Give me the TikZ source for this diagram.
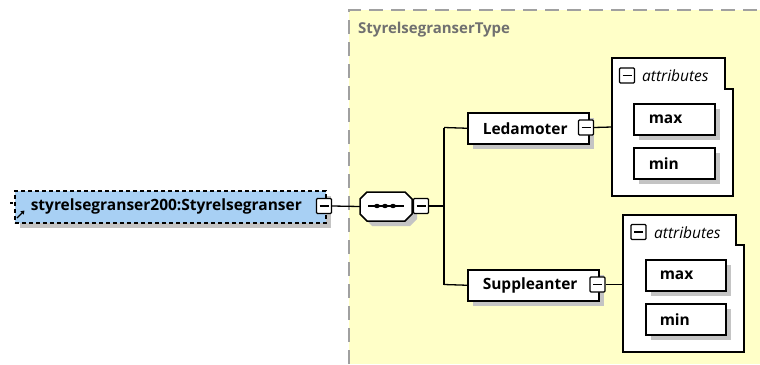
\documentclass[tikz,border=0pt]{standalone}
\usepackage{fontspec}
\setmainfont{Open Sans}
\usetikzlibrary{shadows,arrows.meta}
\definecolor{panelyellow}{HTML}{FFFFC8}
\definecolor{rootblue}{HTML}{A8D0F4}
\definecolor{shadowgray}{HTML}{C4C4C4}
\definecolor{titlegray}{HTML}{707070}
\definecolor{dashgray}{HTML}{A0A0A0}
\begin{document}
\begin{tikzpicture}[x=1pt,y=-1pt,
  shadowed/.style={drop shadow={shadow xshift=5pt,shadow yshift=-5pt,fill=shadowgray,opacity=1}},
  elbox/.style={draw,line width=1.5pt,fill=white,shadowed,minimum height=31pt,inner ysep=0pt,
     anchor=north west,align=left,font=\fontsize{15.5}{17}\selectfont\bfseries},
  attrbox/.style={elbox,minimum height=31pt},
  minusbox/.style={draw,line width=1.3pt,fill=white,rounded corners=1pt,minimum size=15pt,inner sep=0pt,
     path picture={\draw[line width=1.2pt] ([xshift=3pt]path picture bounding box.west) -- ([xshift=-3pt]path picture bounding box.east);}},
  conn/.style={line width=1.3pt},
  frame/.style={line width=1.5pt,fill=white},
  attrlabel/.style={anchor=west,inner sep=0pt,font=\fontsize{15.5}{17}\selectfont\itshape}
]
\useasboundingbox (0,0) rectangle (760,364);
% panel
\fill[panelyellow] (349,10) rectangle (760,364);
\draw[dashgray,line width=1.5pt,dash pattern=on 14pt off 8pt] (349,364) -- (349,10) -- (760,10);
\node[anchor=west,text=titlegray,font=\fontsize{15}{17}\selectfont\bfseries,inner sep=0pt] (title) at (358,30) {StyrelsegranserType};

% root element
\node[elbox,dash pattern=on 4pt off 3pt,fill=rootblue,inner xsep=16pt,text width=279pt,minimum height=32pt] (root) at (14,190) {styrelsegranser200:Styrelsegranser};
\draw[line width=1.4pt,-{Triangle[length=3.5pt,width=4.5pt]}] (17,218) -- (24.5,210.5);
\draw[line width=1.3pt] (10,203) -- (13,203);
\node[minusbox] (m0) at (324,206) {};

% sequence
\fill[shadowgray] (365,204) -- (372,197) -- (410,197) -- (417,204) -- (417,219) -- (410,226) -- (372,226) -- (365,219) -- cycle;
\draw[line width=1.5pt,fill=white] (360,199) -- (367,192) -- (405,192) -- (412,199) -- (412,214) -- (405,221) -- (367,221) -- (360,214) -- cycle;
\node[minimum width=52pt,minimum height=29pt,inner sep=0pt] (seq) at (386,206.5) {};
\draw[line width=1.2pt] (368,206) -- (404,206);
\foreach \dx in {377,385,393} \fill (\dx,206) ellipse (2.8pt and 2.2pt);
\node[minusbox] (ms) at (421,206) {};
\draw[conn] (m0.east) -- (seq.west);
\coordinate (jc) at (444,206);
\coordinate (jt) at (444,127.5);
\coordinate (jb) at (444,284.5);
\draw[conn] (ms.east) -- (jc);
\draw[conn] (jt) -- (jb);

% Ledamoter
\node[elbox,inner xsep=15pt,text width=91pt] (led) at (467,112) {Ledamoter};
\node[minusbox] (m1) at (586,127.5) {};
\draw[conn] (jt) -- (led.west);
% attributes 1
\node[minimum width=121pt,minimum height=138pt,inner sep=0pt] (attr1) at (672.5,127) {};
\draw[frame] (612,58) -- (725,58) -- (725,89) -- (733,89) -- (733,196) -- (612,196) -- cycle;
\node[minusbox] (am1) at (627,75.5) {};
\node[attrlabel] (at1) at (642,76) {attributes};
\draw[conn] (m1.east) -- (attr1.west);
\node[attrbox,inner xsep=15pt,text width=51pt] (max1) at (633,103) {max};
\node[attrbox,inner xsep=15pt,text width=51pt] (min1) at (633,147) {min};

% Suppleanter
\node[elbox,inner xsep=15pt,text width=101pt] (sup) at (467,269) {Suppleanter};
\node[minusbox] (m2) at (597.5,284.5) {};
\draw[conn] (jb) -- (sup.west);
% attributes 2
\node[minimum width=121pt,minimum height=137pt,inner sep=0pt] (attr2) at (683.5,283.5) {};
\draw[frame] (623,215) -- (736,215) -- (736,245) -- (744,245) -- (744,352) -- (623,352) -- cycle;
\node[minusbox] (am2) at (638.5,232) {};
\node[attrlabel] (at2) at (654,232.5) {attributes};
\draw[conn] (m2.east) -- (m2.east -| attr2.west);
\node[attrbox,inner xsep=14pt,text width=52pt] (max2) at (645,259) {max};
\node[attrbox,inner xsep=14pt,text width=52pt] (min2) at (645,303) {min};
\end{tikzpicture}
\end{document}
